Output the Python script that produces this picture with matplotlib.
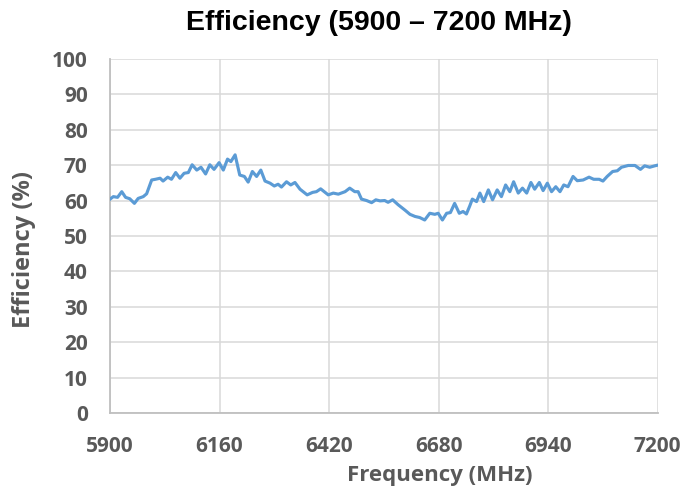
import numpy as np
import matplotlib
matplotlib.use('Agg')
import matplotlib.pyplot as plt

# frequency (MHz) and efficiency (%)
freq = [5898, 5908, 5918, 5928, 5937, 5947, 5958, 5967, 5979, 5987,
        5999, 6008, 6019, 6026, 6037, 6046, 6056, 6066, 6076, 6086,
        6095, 6106, 6116, 6127, 6137, 6147, 6159, 6169, 6179, 6187,
        6197, 6208, 6219, 6228, 6238, 6248, 6258, 6268, 6280, 6290,
        6299, 6307, 6319, 6329, 6339, 6351, 6368, 6381, 6390, 6400,
        6418, 6430, 6442, 6458, 6469, 6481, 6489, 6497, 6509, 6521,
        6531, 6541, 6552, 6560, 6571, 6584, 6600, 6612, 6624, 6635,
        6647, 6659, 6671, 6679, 6689, 6699, 6708, 6718, 6729, 6738,
        6746, 6754, 6760, 6770, 6778, 6787, 6798, 6808, 6819, 6829,
        6839, 6849, 6858, 6869, 6879, 6889, 6899, 6908, 6919, 6928,
        6938, 6948, 6958, 6968, 6977, 6987, 6999, 7009, 7023, 7037,
        7048, 7061, 7070, 7080, 7093, 7104, 7114, 7130, 7146, 7159,
        7169, 7181, 7193, 7200]
eff = [60.2, 61.1, 60.9, 62.5, 60.9, 60.5, 59.2, 60.6, 61.1, 61.9,
       65.8, 66.0, 66.3, 65.5, 66.6, 66.0, 67.9, 66.3, 67.7, 67.9,
       70.1, 68.6, 69.4, 67.5, 70.1, 68.8, 70.7, 68.6, 71.7, 71.0,
       72.9, 67.2, 66.8, 65.2, 68.2, 66.8, 68.6, 65.5, 64.9, 64.1,
       64.6, 63.8, 65.3, 64.4, 65.1, 63.2, 61.6, 62.3, 62.5, 63.3,
       61.6, 62.1, 61.8, 62.5, 63.5, 62.5, 62.5, 60.4, 60.0, 59.4,
       60.2, 59.9, 60.0, 59.5, 60.2, 58.8, 57.3, 56.1, 55.5, 55.2,
       54.5, 56.4, 56.1, 56.4, 54.5, 56.4, 56.6, 59.2, 56.4, 56.9,
       56.2, 58.5, 60.4, 59.7, 62.1, 59.7, 63.0, 60.2, 63.0, 61.1,
       64.4, 62.5, 65.3, 62.1, 63.5, 62.1, 65.1, 63.2, 65.1, 62.8,
       64.9, 62.5, 63.9, 62.5, 64.4, 63.9, 66.8, 65.6, 65.8, 66.6,
       66.0, 66.0, 65.5, 66.8, 68.2, 68.4, 69.4, 69.9, 69.9, 68.8,
       69.8, 69.4, 69.8, 70.0]

xticks = [5900, 6160, 6420, 6680, 6940, 7200]
yticks = list(range(0, 101, 10))

grey = '#595959'
lbl_font = ['Open Sans', 'DejaVu Sans']

fig = plt.figure(figsize=(6.83, 4.91), dpi=100)
ax = fig.add_axes([0.161, 0.159, 0.802, 0.721])

ax.plot(freq, eff, color='#5B9BD5', linewidth=2.25, solid_capstyle='round', zorder=3)

ax.set_xlim(5900, 7200)
ax.set_ylim(0, 100)
ax.set_xticks(xticks)
ax.set_yticks(yticks)
ax.grid(True, color='#D9D9D9', linewidth=1.1)
ax.set_axisbelow(True)
for s in ['top', 'right']:
    ax.spines[s].set_visible(False)
for s in ['left', 'bottom']:
    ax.spines[s].set_color('#BFBFBF')
    ax.spines[s].set_linewidth(1.3)
ax.tick_params(length=0, labelcolor=grey)
ax.tick_params(axis='x', pad=16.5)
ax.tick_params(axis='y', pad=16)
for lab in ax.get_xticklabels() + ax.get_yticklabels():
    lab.set_fontfamily(lbl_font)
    lab.set_fontweight('bold')
    lab.set_fontsize(15)

ax.set_xlabel('Frequency (MHz)', family=lbl_font, fontweight='bold',
              fontsize=16, color=grey)
ax.set_ylabel('Efficiency (%)', family=lbl_font, fontweight='bold',
              fontsize=17, color=grey)
ax.xaxis.set_label_coords(0.602, -0.147)
ax.yaxis.set_label_coords(-0.135, 0.463)
ax.set_title('Efficiency (5900 \u2013 7200 MHz)', family=['Liberation Sans', 'DejaVu Sans'],
             fontweight='bold', fontsize=20.5, color='black', pad=21, x=0.491)

fig.savefig('out.png', dpi=100)
